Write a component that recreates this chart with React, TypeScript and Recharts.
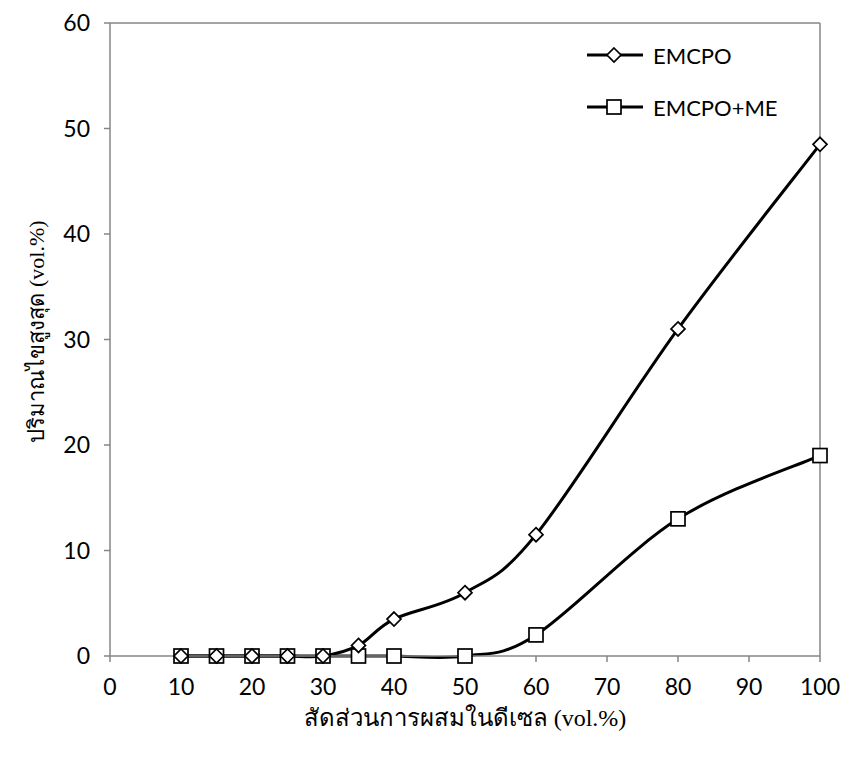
import { LineChart, Line, XAxis, YAxis, ReferenceLine, Label } from "recharts";

const blendPct = [10, 15, 20, 25, 30, 35, 40, 50, 60, 80, 100];
const emcpo = [0, 0, 0, 0, 0, 1, 3.5, 6, 11.5, 31, 48.5];
const emcpoMe = [0, 0, 0, 0, 0, 0, 0, 0, 2, 13, 19];
const xTicks = [0, 10, 20, 30, 40, 50, 60, 70, 80, 90, 100];
const yTicks = [0, 10, 20, 30, 40, 50, 60];

const data = blendPct.map((x, i) => ({ x, emcpo: emcpo[i], emcpoMe: emcpoMe[i] }));

const AXIS = "#868686";
const TICK_FONT = "Lato, 'Open Sans', sans-serif";
const THAI_FONT = "'Liberation Serif', 'DejaVu Serif', serif";

// Excel-like smoothed line (bezier with 1/6 neighbour tangents)
function excelSmooth(context: any) {
  let pts: number[][] = [];
  return {
    areaStart() {},
    areaEnd() {},
    lineStart() { pts = []; },
    lineEnd() {
      if (!pts.length) return;
      context.moveTo(pts[0][0], pts[0][1]);
      for (let i = 0; i < pts.length - 1; i++) {
        const p0 = pts[i - 1] || pts[i];
        const p1 = pts[i];
        const p2 = pts[i + 1];
        const p3 = pts[i + 2] || p2;
        context.bezierCurveTo(
          p1[0] + (p2[0] - p0[0]) / 6, p1[1] + (p2[1] - p0[1]) / 6,
          p2[0] - (p3[0] - p1[0]) / 6, p2[1] - (p3[1] - p1[1]) / 6,
          p2[0], p2[1]
        );
      }
    },
    point(x: number, y: number) { pts.push([+x, +y]); },
  };
}

const Diamond = (props: any) => {
  const { cx, cy } = props;
  if (cx == null || cy == null) return null;
  const r = 7;
  return (
    <polygon
      key={`d-${cx}`}
      points={`${cx},${cy - r} ${cx + r},${cy} ${cx},${cy + r} ${cx - r},${cy}`}
      fill="#fff" stroke="#000" strokeWidth={1.7}
    />
  );
};

const Square = (props: any) => {
  const { cx, cy } = props;
  if (cx == null || cy == null) return null;
  const r = 7;
  return <rect key={`s-${cx}`} x={cx - r} y={cy - r} width={r * 2} height={r * 2} fill="#fff" stroke="#000" strokeWidth={1.7} />;
};

const legendItems = [
  { name: "EMCPO", marker: "diamond" },
  { name: "EMCPO+ME", marker: "square" },
];

const LegendBox = () => (
  <div style={{ position: "absolute", top: 29, left: 587, width: 220 }}>
    {legendItems.map(it => (
      <div key={it.name} style={{ display: "flex", alignItems: "center", height: 52 }}>
        <svg width={58} height={20}>
          <line x1={0} y1={10} x2={56} y2={10} stroke="#000" strokeWidth={3} />
          {it.marker === "diamond"
            ? <polygon points="27,3 34,10 27,17 20,10" fill="#fff" stroke="#000" strokeWidth={1.7} />
            : <rect x={20} y={3} width={14} height={14} fill="#fff" stroke="#000" strokeWidth={1.7} />}
        </svg>
        <span style={{ fontFamily: TICK_FONT, fontSize: 22, marginLeft: 8, color: "#000" }}>{it.name}</span>
      </div>
    ))}
  </div>
);

export default function App() {
  return (
    <div style={{ position: "absolute", left: 0, top: 0, width: 843, height: 758, background: "#fff" }}>
      <LineChart width={843} height={758} data={data} margin={{ top: 23, right: 23, left: 10, bottom: 22 }}>
        <XAxis
          dataKey="x" type="number" domain={[0, 100]} ticks={xTicks} interval={0}
          height={80}
          axisLine={{ stroke: AXIS, strokeWidth: 1.5 }}
          tickLine={{ stroke: AXIS, strokeWidth: 1.5 }}
          tickSize={6} tickMargin={17}
          tick={{ fill: "#000", fontSize: 23, fontFamily: TICK_FONT }}
        >
          <Label
            content={({ viewBox }: any) => (
              <text x={viewBox.x + viewBox.width / 2} y={viewBox.y + 70} textAnchor="middle"
                fontFamily={THAI_FONT} fontSize={24} fill="#000">
                สัดส่วนการผสมในดีเซล (vol.%)
              </text>
            )}
          />
        </XAxis>
        <YAxis
          type="number" domain={[0, 60]} ticks={yTicks} interval={0}
          width={100}
          axisLine={{ stroke: AXIS, strokeWidth: 1.5 }}
          tickLine={{ stroke: AXIS, strokeWidth: 1.5 }}
          tickSize={6} tickMargin={14}
          tick={{ fill: "#000", fontSize: 23, fontFamily: TICK_FONT }}
        >
          <Label
            content={({ viewBox }: any) => {
              const cx = viewBox.x + 26;
              const cy = viewBox.y + viewBox.height / 2 - 8;
              return (
                <text x={cx} y={cy} textAnchor="middle" dominantBaseline="central"
                  transform={`rotate(-90 ${cx} ${cy})`}
                  fontFamily={THAI_FONT} fontSize={22} fill="#000">
                  ปริมาณไขสูงสุด (vol.%)
                </text>
              );
            }}
          />
        </YAxis>
        <ReferenceLine y={60} stroke={AXIS} strokeWidth={1.5} />
        <ReferenceLine x={100} stroke={AXIS} strokeWidth={1.5} />
        <Line
          dataKey="emcpoMe" name="EMCPO+ME" type={excelSmooth as any}
          stroke="#000" strokeWidth={3} dot={Square} activeDot={false}
          isAnimationActive={false}
        />
        <Line
          dataKey="emcpo" name="EMCPO" type={excelSmooth as any}
          stroke="#000" strokeWidth={3} dot={Diamond} activeDot={false}
          isAnimationActive={false}
        />
      </LineChart>
      <LegendBox />
    </div>
  );
}
